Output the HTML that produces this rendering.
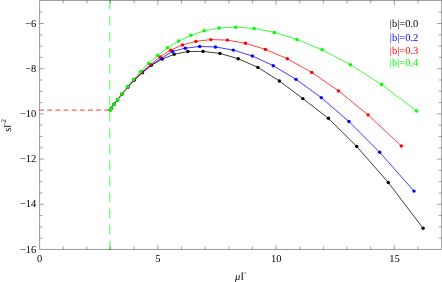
<!DOCTYPE html>
<html><head><meta charset="utf-8"><title>plot</title>
<style>html,body{margin:0;padding:0;background:#fff;}body{width:442px;height:282px;overflow:hidden;position:relative;font-family:"Liberation Serif",serif;}</style></head>
<body>
<svg width="442" height="282" viewBox="0 0 442 282" style="position:absolute;left:0;top:0;will-change:transform">
<rect width="442" height="282" fill="#fff"/>
<line x1="39.5" y1="110.05" x2="110.4" y2="110.05" stroke="#ff0000" stroke-opacity="0.62" stroke-width="1.2" stroke-dasharray="5 3.16" stroke-dashoffset="0.5"/>
<line x1="109.7" y1="250" x2="109.7" y2="0" stroke="#00ff00" stroke-opacity="0.62" stroke-width="1.2" stroke-dasharray="9.2 6.85"/>
<polyline fill="none" stroke="#000000" stroke-width="0.76" stroke-linejoin="round" points="110.40,109.85 111.40,108.30 114.11,104.21 117.55,99.73 122.26,93.71 127.82,87.09 134.40,79.91 142.35,72.70 151.60,65.10 162.20,59.10 174.10,54.30 187.90,51.50 203.10,51.40 219.90,53.40 238.20,58.70 257.90,67.40 279.40,81.00 302.85,98.60 328.40,118.30 356.70,146.40 388.30,182.50 423.10,228.30"/>
<g fill="#000000"><circle cx="110.40" cy="109.85" r="1.72"/><circle cx="111.40" cy="108.30" r="1.72"/><circle cx="114.11" cy="104.21" r="1.72"/><circle cx="117.55" cy="99.73" r="1.72"/><circle cx="122.26" cy="93.71" r="1.72"/><circle cx="127.82" cy="87.09" r="1.72"/><circle cx="134.40" cy="79.91" r="1.72"/><circle cx="142.35" cy="72.70" r="1.72"/><circle cx="151.60" cy="65.10" r="1.72"/><circle cx="162.20" cy="59.10" r="1.72"/><circle cx="174.10" cy="54.30" r="1.72"/><circle cx="187.90" cy="51.50" r="1.72"/><circle cx="203.10" cy="51.40" r="1.72"/><circle cx="219.90" cy="53.40" r="1.72"/><circle cx="238.20" cy="58.70" r="1.72"/><circle cx="257.90" cy="67.40" r="1.72"/><circle cx="279.40" cy="81.00" r="1.72"/><circle cx="302.85" cy="98.60" r="1.72"/><circle cx="328.40" cy="118.30" r="1.72"/><circle cx="356.70" cy="146.40" r="1.72"/><circle cx="388.30" cy="182.50" r="1.72"/><circle cx="423.10" cy="228.30" r="1.72"/></g>
<polyline fill="none" stroke="#0000ff" stroke-width="0.76" stroke-linejoin="round" points="110.40,109.85 111.40,108.30 114.11,104.21 117.54,99.73 122.24,93.69 127.74,87.04 134.24,79.81 142.30,72.20 150.90,65.30 161.50,58.20 172.50,51.40 185.30,48.20 199.70,46.45 215.50,46.95 233.30,50.10 252.40,56.00 273.25,65.70 296.05,79.35 321.30,97.65 348.95,121.50 379.65,152.25 414.00,191.10"/>
<g fill="#0000ff"><circle cx="110.40" cy="109.85" r="1.72"/><circle cx="111.40" cy="108.30" r="1.72"/><circle cx="114.11" cy="104.21" r="1.72"/><circle cx="117.54" cy="99.73" r="1.72"/><circle cx="122.24" cy="93.69" r="1.72"/><circle cx="127.74" cy="87.04" r="1.72"/><circle cx="134.24" cy="79.81" r="1.72"/><circle cx="142.30" cy="72.20" r="1.72"/><circle cx="150.90" cy="65.30" r="1.72"/><circle cx="161.50" cy="58.20" r="1.72"/><circle cx="172.50" cy="51.40" r="1.72"/><circle cx="185.30" cy="48.20" r="1.72"/><circle cx="199.70" cy="46.45" r="1.72"/><circle cx="215.50" cy="46.95" r="1.72"/><circle cx="233.30" cy="50.10" r="1.72"/><circle cx="252.40" cy="56.00" r="1.72"/><circle cx="273.25" cy="65.70" r="1.72"/><circle cx="296.05" cy="79.35" r="1.72"/><circle cx="321.30" cy="97.65" r="1.72"/><circle cx="348.95" cy="121.50" r="1.72"/><circle cx="379.65" cy="152.25" r="1.72"/><circle cx="414.00" cy="191.10" r="1.72"/></g>
<polyline fill="none" stroke="#ff0000" stroke-width="0.76" stroke-linejoin="round" points="110.40,109.85 111.40,108.30 114.11,104.20 117.53,99.72 122.20,93.67 127.65,86.99 134.04,79.71 141.65,72.30 150.50,64.60 160.00,56.90 170.50,50.15 182.40,45.00 195.90,41.40 210.80,39.60 227.40,40.10 245.50,43.25 265.40,49.40 287.40,58.75 311.75,72.40 338.50,90.90 368.10,114.90 401.35,146.00"/>
<g fill="#ff0000"><circle cx="110.40" cy="109.85" r="1.72"/><circle cx="111.40" cy="108.30" r="1.72"/><circle cx="114.11" cy="104.20" r="1.72"/><circle cx="117.53" cy="99.72" r="1.72"/><circle cx="122.20" cy="93.67" r="1.72"/><circle cx="127.65" cy="86.99" r="1.72"/><circle cx="134.04" cy="79.71" r="1.72"/><circle cx="141.65" cy="72.30" r="1.72"/><circle cx="150.50" cy="64.60" r="1.72"/><circle cx="160.00" cy="56.90" r="1.72"/><circle cx="170.50" cy="50.15" r="1.72"/><circle cx="182.40" cy="45.00" r="1.72"/><circle cx="195.90" cy="41.40" r="1.72"/><circle cx="210.80" cy="39.60" r="1.72"/><circle cx="227.40" cy="40.10" r="1.72"/><circle cx="245.50" cy="43.25" r="1.72"/><circle cx="265.40" cy="49.40" r="1.72"/><circle cx="287.40" cy="58.75" r="1.72"/><circle cx="311.75" cy="72.40" r="1.72"/><circle cx="338.50" cy="90.90" r="1.72"/><circle cx="368.10" cy="114.90" r="1.72"/><circle cx="401.35" cy="146.00" r="1.72"/></g>
<polyline fill="none" stroke="#00ff00" stroke-width="0.76" stroke-linejoin="round" points="110.40,109.85 111.40,108.30 114.10,104.20 117.50,99.70 122.10,93.60 127.40,86.80 133.50,79.30 140.60,71.50 148.75,63.30 157.60,55.45 167.50,47.85 178.70,41.10 190.85,35.35 204.30,30.85 219.20,27.95 235.70,27.15 254.10,28.50 274.35,32.40 296.90,39.40 322.10,49.80 350.30,64.70 381.50,84.45 416.45,110.90"/>
<g fill="#00ff00"><circle cx="110.40" cy="109.85" r="1.75"/><circle cx="111.40" cy="108.30" r="1.75"/><circle cx="114.10" cy="104.20" r="1.75"/><circle cx="117.50" cy="99.70" r="1.75"/><circle cx="122.10" cy="93.60" r="1.75"/><circle cx="127.40" cy="86.80" r="1.75"/><circle cx="133.50" cy="79.30" r="1.75"/><circle cx="140.60" cy="71.50" r="1.75"/><circle cx="148.75" cy="63.30" r="1.75"/><circle cx="157.60" cy="55.45" r="1.75"/><circle cx="167.50" cy="47.85" r="1.75"/><circle cx="178.70" cy="41.10" r="1.75"/><circle cx="190.85" cy="35.35" r="1.75"/><circle cx="204.30" cy="30.85" r="1.75"/><circle cx="219.20" cy="27.95" r="1.75"/><circle cx="235.70" cy="27.15" r="1.75"/><circle cx="254.10" cy="28.50" r="1.75"/><circle cx="274.35" cy="32.40" r="1.75"/><circle cx="296.90" cy="39.40" r="1.75"/><circle cx="322.10" cy="49.80" r="1.75"/><circle cx="350.30" cy="64.70" r="1.75"/><circle cx="381.50" cy="84.45" r="1.75"/><circle cx="416.45" cy="110.90" r="1.75"/></g>
<g stroke="#000" stroke-width="0.4" fill="none">
<line x1="39.60" y1="0.35" x2="39.60" y2="249.65"/>
<line x1="441.65" y1="0.35" x2="441.65" y2="249.65"/>
<line x1="39.60" y1="0.55" x2="441.65" y2="0.55"/>
<line x1="39.60" y1="249.45" x2="441.65" y2="249.45"/>
</g>
<g stroke="#000" stroke-width="0.36" fill="none">
<line x1="63.25" y1="249.45" x2="63.25" y2="246.55"/>
<line x1="63.25" y1="0.55" x2="63.25" y2="3.45"/>
<line x1="86.90" y1="249.45" x2="86.90" y2="246.55"/>
<line x1="86.90" y1="0.55" x2="86.90" y2="3.45"/>
<line x1="110.55" y1="249.45" x2="110.55" y2="246.55"/>
<line x1="110.55" y1="0.55" x2="110.55" y2="3.45"/>
<line x1="134.20" y1="249.45" x2="134.20" y2="246.55"/>
<line x1="134.20" y1="0.55" x2="134.20" y2="3.45"/>
<line x1="157.85" y1="249.45" x2="157.85" y2="244.85"/>
<line x1="157.85" y1="0.55" x2="157.85" y2="5.15"/>
<line x1="181.50" y1="249.45" x2="181.50" y2="246.55"/>
<line x1="181.50" y1="0.55" x2="181.50" y2="3.45"/>
<line x1="205.15" y1="249.45" x2="205.15" y2="246.55"/>
<line x1="205.15" y1="0.55" x2="205.15" y2="3.45"/>
<line x1="228.80" y1="249.45" x2="228.80" y2="246.55"/>
<line x1="228.80" y1="0.55" x2="228.80" y2="3.45"/>
<line x1="252.45" y1="249.45" x2="252.45" y2="246.55"/>
<line x1="252.45" y1="0.55" x2="252.45" y2="3.45"/>
<line x1="276.10" y1="249.45" x2="276.10" y2="244.85"/>
<line x1="276.10" y1="0.55" x2="276.10" y2="5.15"/>
<line x1="299.75" y1="249.45" x2="299.75" y2="246.55"/>
<line x1="299.75" y1="0.55" x2="299.75" y2="3.45"/>
<line x1="323.40" y1="249.45" x2="323.40" y2="246.55"/>
<line x1="323.40" y1="0.55" x2="323.40" y2="3.45"/>
<line x1="347.05" y1="249.45" x2="347.05" y2="246.55"/>
<line x1="347.05" y1="0.55" x2="347.05" y2="3.45"/>
<line x1="370.70" y1="249.45" x2="370.70" y2="246.55"/>
<line x1="370.70" y1="0.55" x2="370.70" y2="3.45"/>
<line x1="394.35" y1="249.45" x2="394.35" y2="244.85"/>
<line x1="394.35" y1="0.55" x2="394.35" y2="5.15"/>
<line x1="418.00" y1="249.45" x2="418.00" y2="246.55"/>
<line x1="418.00" y1="0.55" x2="418.00" y2="3.45"/>
<line x1="39.60" y1="238.15" x2="42.50" y2="238.15"/>
<line x1="441.65" y1="238.15" x2="438.75" y2="238.15"/>
<line x1="39.60" y1="226.85" x2="42.50" y2="226.85"/>
<line x1="441.65" y1="226.85" x2="438.75" y2="226.85"/>
<line x1="39.60" y1="215.56" x2="42.50" y2="215.56"/>
<line x1="441.65" y1="215.56" x2="438.75" y2="215.56"/>
<line x1="39.60" y1="204.26" x2="44.20" y2="204.26"/>
<line x1="441.65" y1="204.26" x2="437.05" y2="204.26"/>
<line x1="39.60" y1="192.96" x2="42.50" y2="192.96"/>
<line x1="441.65" y1="192.96" x2="438.75" y2="192.96"/>
<line x1="39.60" y1="181.66" x2="42.50" y2="181.66"/>
<line x1="441.65" y1="181.66" x2="438.75" y2="181.66"/>
<line x1="39.60" y1="170.37" x2="42.50" y2="170.37"/>
<line x1="441.65" y1="170.37" x2="438.75" y2="170.37"/>
<line x1="39.60" y1="159.07" x2="44.20" y2="159.07"/>
<line x1="441.65" y1="159.07" x2="437.05" y2="159.07"/>
<line x1="39.60" y1="147.77" x2="42.50" y2="147.77"/>
<line x1="441.65" y1="147.77" x2="438.75" y2="147.77"/>
<line x1="39.60" y1="136.47" x2="42.50" y2="136.47"/>
<line x1="441.65" y1="136.47" x2="438.75" y2="136.47"/>
<line x1="39.60" y1="125.18" x2="42.50" y2="125.18"/>
<line x1="441.65" y1="125.18" x2="438.75" y2="125.18"/>
<line x1="39.60" y1="113.88" x2="44.20" y2="113.88"/>
<line x1="441.65" y1="113.88" x2="437.05" y2="113.88"/>
<line x1="39.60" y1="102.58" x2="42.50" y2="102.58"/>
<line x1="441.65" y1="102.58" x2="438.75" y2="102.58"/>
<line x1="39.60" y1="91.28" x2="42.50" y2="91.28"/>
<line x1="441.65" y1="91.28" x2="438.75" y2="91.28"/>
<line x1="39.60" y1="79.99" x2="42.50" y2="79.99"/>
<line x1="441.65" y1="79.99" x2="438.75" y2="79.99"/>
<line x1="39.60" y1="68.69" x2="44.20" y2="68.69"/>
<line x1="441.65" y1="68.69" x2="437.05" y2="68.69"/>
<line x1="39.60" y1="57.39" x2="42.50" y2="57.39"/>
<line x1="441.65" y1="57.39" x2="438.75" y2="57.39"/>
<line x1="39.60" y1="46.09" x2="42.50" y2="46.09"/>
<line x1="441.65" y1="46.09" x2="438.75" y2="46.09"/>
<line x1="39.60" y1="34.80" x2="42.50" y2="34.80"/>
<line x1="441.65" y1="34.80" x2="438.75" y2="34.80"/>
<line x1="39.60" y1="23.50" x2="44.20" y2="23.50"/>
<line x1="441.65" y1="23.50" x2="437.05" y2="23.50"/>
<line x1="39.60" y1="12.20" x2="42.50" y2="12.20"/>
<line x1="441.65" y1="12.20" x2="438.75" y2="12.20"/>
</g>
<g font-family="Liberation Serif, serif" font-size="10.5px" fill="#000" style="text-rendering:geometricPrecision">
<text x="36.3" y="26.60" text-anchor="end">−6</text>
<text x="36.3" y="71.79" text-anchor="end">−8</text>
<text x="36.3" y="116.98" text-anchor="end">−10</text>
<text x="36.3" y="162.17" text-anchor="end">−12</text>
<text x="36.3" y="207.36" text-anchor="end">−14</text>
<text x="36.3" y="252.55" text-anchor="end">−16</text>
<text x="39.60" y="261.5" text-anchor="middle">0</text>
<text x="157.85" y="261.5" text-anchor="middle">5</text>
<text x="276.30" y="261.5" text-anchor="middle">10</text>
<text x="394.55" y="261.5" text-anchor="middle">15</text>
<text x="235" y="279.7" font-style="italic">μ</text>
<g transform="translate(240.7,279.8)"><g fill="#000"><rect x="1.0" y="-6.95" width="0.95" height="6.95"/><rect x="0.2" y="-7.1" width="5.3" height="0.45" opacity="0.75"/><polygon points="4.95,-6.65 5.5,-6.65 5.5,-5.3" opacity="0.75"/><rect x="0.2" y="-0.38" width="2.6" height="0.38" opacity="0.7"/></g></g>
<g transform="translate(10.6,131.8) rotate(-90)"><text x="0" y="0">s</text><g transform="translate(4.15,0) scale(0.9,0.93)"><g fill="#000"><rect x="1.0" y="-6.95" width="0.95" height="6.95"/><rect x="0.2" y="-7.1" width="5.3" height="0.45" opacity="0.75"/><polygon points="4.95,-6.65 5.5,-6.65 5.5,-5.3" opacity="0.75"/><rect x="0.2" y="-0.38" width="2.6" height="0.38" opacity="0.7"/></g></g><text x="9.3" y="-4.9" font-size="7px">2</text></g>
<text x="389.8" y="27.0" fill="#000">|b|=0.0</text>
<text x="389.8" y="40.75" fill="#0000ff">|b|=0.2</text>
<text x="389.8" y="54.2" fill="#ff0000">|b|=0.3</text>
<text x="389.8" y="65.5" fill="#00ff00">|b|=0.4</text>
</g>
</svg>
</body></html>
